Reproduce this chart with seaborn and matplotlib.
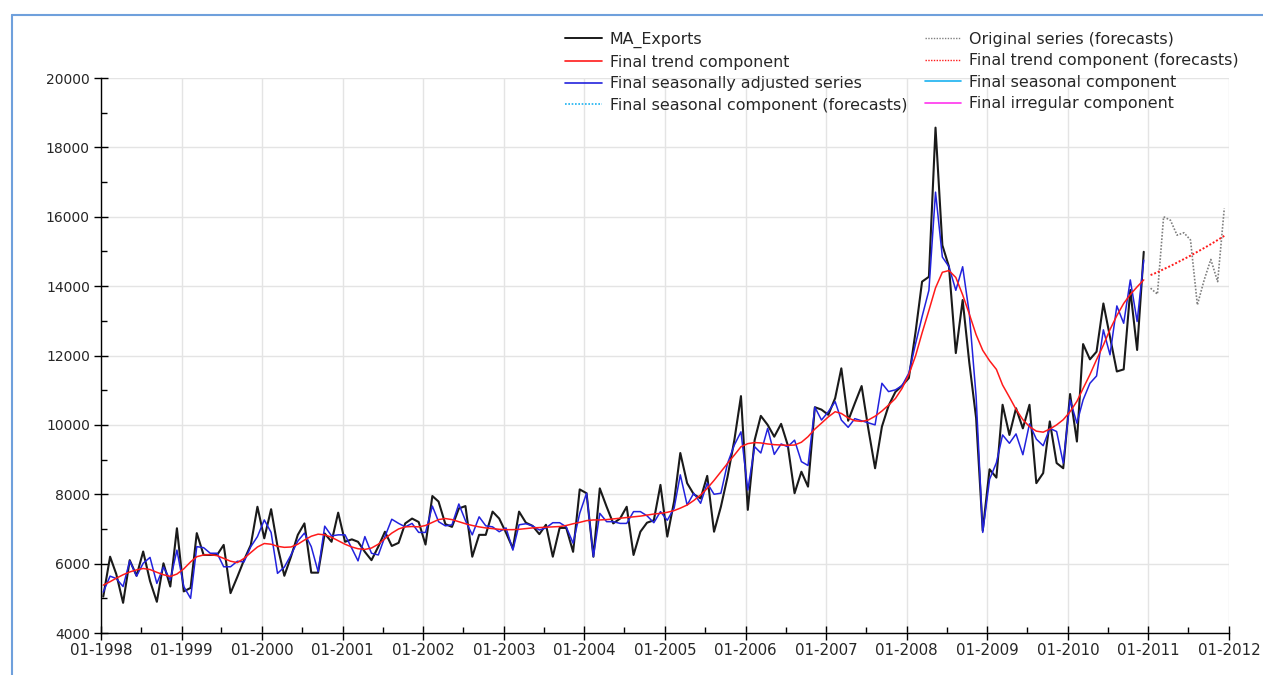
"""Decomposicao X-13 das exportacoes (MA_Exports) com previsoes para 2011"""
import numpy as np
import pandas as pd
import matplotlib
matplotlib.use('Agg')
import matplotlib.pyplot as plt
import matplotlib.dates as mdates
from matplotlib.lines import Line2D
import seaborn as sns

# Serie original mensal, 01-1998 a 12-2010
ma_exports = [
    5050, 6200, 5700, 4870, 6100, 5650, 6350, 5500, 4900, 6010, 5340, 7020,
    5200, 5300, 6880, 6250, 6250, 6250, 6540, 5150, 5620, 6100, 6540, 7640,
    6730, 7570, 6500, 5650, 6200, 6830, 7160, 5740, 5740, 6870, 6630, 7470,
    6630, 6700, 6630, 6340, 6100, 6490, 6920, 6510, 6600, 7160, 7300, 7200,
    6550, 7950, 7790, 7140, 7060, 7590, 7660, 6200, 6830, 6830, 7500, 7300,
    6890, 6440, 7500, 7180, 7090, 6850, 7120, 6200, 7030, 7030, 6340, 8140,
    8030, 6200, 8170, 7640, 7160, 7300, 7640, 6250, 6920, 7180, 7250, 8270,
    6780, 7800, 9190, 8320, 8000, 7880, 8530, 6920, 7640, 8500, 9560, 10830,
    7550, 9560, 10260, 10000, 9660, 10030, 9420, 8030, 8650, 8220, 10510, 10440,
    10290, 10770, 11630, 10120, 10620, 11120, 9900, 8750, 9950, 10550, 10950, 11130,
    11350, 12700, 14130, 14270, 18570, 15180, 14560, 12070, 13600, 11800, 10200, 6950,
    8720, 8480, 10580, 9710, 10480, 9900, 10580, 8320, 8610, 10100, 8900, 8750,
    10890, 9520, 12330, 11890, 12110, 13500, 12540, 11540, 11600, 13890, 12160, 14990,
]

# Serie dessazonalizada final
seas_adj = [
    5180, 5640, 5570, 5340, 6080, 5640, 6010, 6180, 5430, 5900, 5530, 6390,
    5340, 5000, 6490, 6460, 6300, 6300, 5910, 5910, 6070, 6050, 6490, 6780,
    7260, 6900, 5720, 5900, 6250, 6650, 6880, 6490, 5770, 7080, 6800, 6830,
    6830, 6440, 6080, 6780, 6300, 6250, 6780, 7280, 7160, 7060, 7160, 6900,
    6900, 7660, 7210, 7090, 7120, 7720, 7240, 6830, 7350, 7090, 7060, 6920,
    7030, 6390, 7120, 7150, 7090, 6970, 7030, 7180, 7180, 7060, 6590, 7450,
    8030, 6200, 7450, 7210, 7210, 7160, 7160, 7500, 7500, 7380, 7180, 7500,
    7250, 7600, 8560, 7690, 8030, 7740, 8320, 8000, 8030, 8890, 9420, 9800,
    8120, 9370, 9190, 9900, 9150, 9450, 9370, 9560, 8940, 8830, 10510, 10140,
    10380, 10670, 10140, 9930, 10180, 10120, 10060, 10000, 11200, 10960, 11010, 11130,
    11490, 12350, 13120, 13880, 16710, 14840, 14560, 13880, 14560, 13220, 10820, 6900,
    8430, 8910, 9710, 9470, 9740, 9140, 10030, 9590, 9400, 9900, 9810, 8900,
    10720, 10050, 10720, 11200, 11410, 12740, 12020, 13430, 12930, 14180, 12980, 14750,
]

# Componente de tendencia final
trend = [
    5380, 5480, 5580, 5680, 5760, 5820, 5860, 5830, 5750, 5680, 5630, 5700,
    5850, 6050, 6200, 6250, 6260, 6230, 6150, 6070, 6030, 6150, 6320, 6480,
    6580, 6560, 6500, 6470, 6480, 6560, 6680, 6790, 6850, 6830, 6760, 6660,
    6560, 6480, 6430, 6410, 6450, 6560, 6720, 6880, 7000, 7060, 7070, 7060,
    7100, 7190, 7270, 7300, 7270, 7210, 7150, 7100, 7060, 7030, 7010, 6990,
    6980, 6980, 6990, 7010, 7030, 7040, 7050, 7060, 7070, 7100, 7150, 7190,
    7240, 7260, 7260, 7270, 7290, 7310, 7330, 7350, 7370, 7400, 7430, 7450,
    7480, 7530, 7600, 7690, 7820, 7980, 8170, 8400, 8650, 8890, 9130, 9370,
    9460, 9490, 9480, 9450, 9430, 9420, 9410, 9420, 9500, 9660, 9880, 10050,
    10230, 10380, 10330, 10200, 10120, 10100, 10140, 10250, 10400, 10570, 10760, 11050,
    11450, 12000, 12650, 13300, 13950, 14400, 14450, 14250, 13750, 13200, 12600, 12150,
    11850, 11600, 11150, 10800, 10450, 10150, 9950, 9820, 9790, 9880, 10000, 10150,
    10380, 10680, 11050, 11450, 11880, 12300, 12750, 13150, 13500, 13760, 13980, 14180,
]

# Previsoes 01-2011 a 12-2011
orig_forecast = [13940, 13770, 16000, 15900, 15470, 15540, 15330, 13460, 14180, 14770, 14130, 16240]
trend_forecast = [14320, 14400, 14490, 14580, 14680, 14780, 14880, 14990, 15100, 15210, 15330, 15450]

# os pontos aparecem um pouco depois do inicio de cada mes no grafico original
shift = pd.Timedelta(days=10)
dates = pd.date_range('1998-01-01', periods=len(ma_exports), freq='MS') + shift
dates_fc = pd.date_range('2011-01-01', periods=len(orig_forecast), freq='MS') + shift

df = pd.DataFrame({'Date': dates, 'MA_Exports': ma_exports,
                   'SA': seas_adj, 'Trend': trend})
df_fc = pd.DataFrame({'Date': dates_fc, 'Original': orig_forecast, 'Trend': trend_forecast})

sns.set_style('white')
plt.rcParams['font.family'] = ['DejaVu Sans']

fig = plt.figure(figsize=(12.63, 6.75), dpi=100)
ax = fig.add_axes([0.080, 0.0622, 0.893, 0.8222])

c_black = '#1a1a1a'
c_red = '#ff1a1a'
c_blue = '#2222dd'
c_grey = '#808080'
c_cyan = '#1ab2f0'
c_mag = '#ff33ee'

sns.lineplot(data=df, x='Date', y='MA_Exports', ax=ax, color=c_black, lw=1.5)
sns.lineplot(data=df, x='Date', y='SA', ax=ax, color=c_blue, lw=1.1)
sns.lineplot(data=df, x='Date', y='Trend', ax=ax, color=c_red, lw=1.1)
sns.lineplot(data=df_fc, x='Date', y='Original', ax=ax, color=c_grey, lw=1.2, linestyle=(0, (1, 1)))
sns.lineplot(data=df_fc, x='Date', y='Trend', ax=ax, color=c_red, lw=1.4, linestyle=(0, (1, 1)))

ax.set_xlim(pd.Timestamp('1998-01-01'), pd.Timestamp('2012-01-01'))
ax.set_ylim(4000, 20000)
ax.set_xlabel('')
ax.set_ylabel('')

ax.xaxis.set_major_locator(mdates.YearLocator())
ax.xaxis.set_major_formatter(mdates.DateFormatter('%m-%Y'))
ax.xaxis.set_minor_locator(mdates.MonthLocator(bymonth=7))
ax.set_yticks(np.arange(4000, 20001, 2000))
ax.set_yticks(np.arange(5000, 20000, 2000), minor=True)

ax.grid(True, which='major', color='#e4e4e4', lw=1.0)
ax.set_axisbelow(True)
for s in ['top', 'right']:
    ax.spines[s].set_visible(False)
for s in ['left', 'bottom']:
    ax.spines[s].set_color('black')
    ax.spines[s].set_linewidth(1.0)

ax.tick_params(axis='both', which='major', direction='inout', length=10, width=1, color='black')
ax.tick_params(axis='both', which='minor', direction='in', length=4, width=1, color='black')
ax.tick_params(axis='x', which='major', labelsize=10.8, pad=2)
ax.tick_params(axis='y', which='major', labelsize=10, pad=3)
ax.tick_params(axis='both', which='both', bottom=True, left=True)

handles = [
    Line2D([], [], color=c_black, lw=1.4),
    Line2D([], [], color=c_red, lw=1.2),
    Line2D([], [], color=c_blue, lw=1.2),
    Line2D([], [], color=c_cyan, lw=1.2, linestyle=(0, (1, 1))),
    Line2D([], [], color=c_grey, lw=1.0, linestyle=(0, (1, 1))),
    Line2D([], [], color=c_red, lw=1.0, linestyle=(0, (1, 1))),
    Line2D([], [], color=c_cyan, lw=1.2),
    Line2D([], [], color=c_mag, lw=1.2),
]
labels = [
    'MA_Exports', 'Final trend component', 'Final seasonally adjusted series',
    'Final seasonal component (forecasts)', 'Original series (forecasts)',
    'Final trend component (forecasts)', 'Final seasonal component',
    'Final irregular component',
]
fig.legend(handles, labels, loc='upper left', bbox_to_anchor=(0.4426, 0.962), ncol=2,
           frameon=False, fontsize=11.4, handlelength=2.3, handletextpad=0.5,
           columnspacing=1.1, labelspacing=0.41, borderaxespad=0)

# moldura azul da janela original
fig.add_artist(Line2D([12 / 1263, 12 / 1263], [0, 1 - 15 / 675], transform=fig.transFigure,
                      color='#6fa0dc', lw=1.5))
fig.add_artist(Line2D([12 / 1263, 1], [1 - 15 / 675, 1 - 15 / 675], transform=fig.transFigure,
                      color='#6fa0dc', lw=1.5))

fig.savefig('out.png', dpi=100, facecolor='white')
